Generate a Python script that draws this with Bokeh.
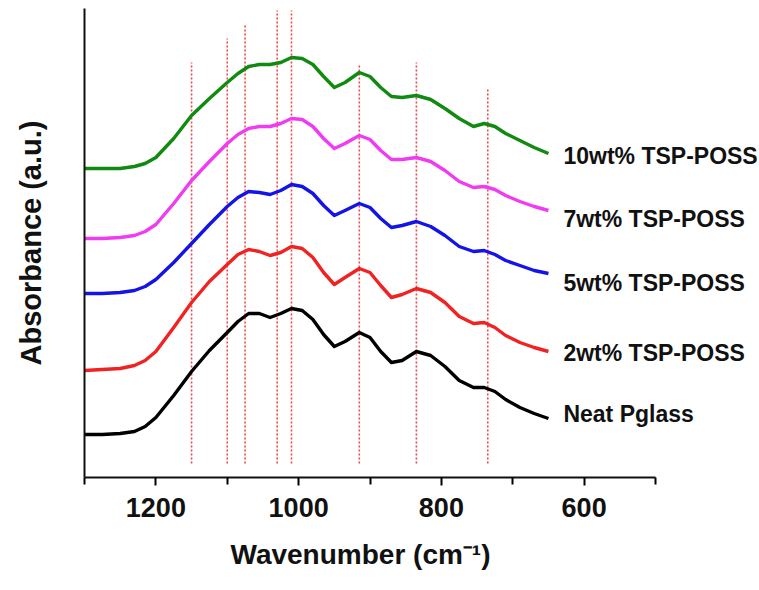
from bokeh.plotting import figure
from bokeh.models import Range1d, FixedTicker, ColumnDataSource, Title
from bokeh.embed import file_html
from bokeh.resources import INLINE
from bokeh.core.properties import value

# ---------------- data (absorbance, arbitrary units, vertically offset) ----------------
wavenumber = [1300, 1275, 1250, 1230, 1215, 1200, 1175, 1150, 1125, 1100, 1085, 1070,
              1055, 1040, 1025, 1010, 995, 980, 965, 950, 935, 915, 900, 885, 870,
              855, 835, 815, 795, 775, 755, 740, 725, 710, 690, 670, 650]

neat = [0.43, 0.43, 0.44, 0.46, 0.51, 0.60, 0.82, 1.06, 1.27, 1.45, 1.56, 1.64,
        1.64, 1.60, 1.64, 1.69, 1.67, 1.58, 1.43, 1.31, 1.36, 1.45, 1.40, 1.26, 1.15,
        1.17, 1.26, 1.22, 1.11, 0.97, 0.90, 0.90, 0.86, 0.78, 0.70, 0.64, 0.59]
wt2 = [1.07, 1.08, 1.09, 1.12, 1.17, 1.26, 1.50, 1.75, 1.96, 2.13, 2.23, 2.28,
       2.26, 2.22, 2.25, 2.31, 2.29, 2.20, 2.05, 1.93, 2.00, 2.09, 2.05, 1.92, 1.80,
       1.83, 1.89, 1.85, 1.75, 1.61, 1.54, 1.55, 1.50, 1.42, 1.35, 1.30, 1.26]
wt5 = [1.84, 1.84, 1.85, 1.87, 1.91, 1.98, 2.15, 2.34, 2.53, 2.71, 2.80, 2.86,
       2.85, 2.83, 2.87, 2.93, 2.91, 2.84, 2.72, 2.62, 2.67, 2.74, 2.70, 2.59, 2.50,
       2.52, 2.56, 2.51, 2.42, 2.31, 2.26, 2.27, 2.23, 2.17, 2.12, 2.07, 2.04]
wt7 = [2.39, 2.39, 2.40, 2.42, 2.46, 2.53, 2.74, 2.97, 3.16, 3.34, 3.43, 3.49,
       3.51, 3.51, 3.54, 3.59, 3.58, 3.51, 3.39, 3.29, 3.34, 3.42, 3.38, 3.27, 3.18,
       3.18, 3.20, 3.16, 3.07, 2.96, 2.90, 2.91, 2.88, 2.82, 2.76, 2.71, 2.67]
wt10 = [3.09, 3.09, 3.09, 3.11, 3.14, 3.20, 3.39, 3.62, 3.79, 3.95, 4.04, 4.11,
        4.13, 4.13, 4.15, 4.20, 4.19, 4.13, 4.01, 3.90, 3.95, 4.05, 4.01, 3.90, 3.81,
        3.80, 3.82, 3.78, 3.69, 3.59, 3.51, 3.54, 3.51, 3.44, 3.37, 3.30, 3.24]

series_names = ["10wt% TSP-POSS", "7wt% TSP-POSS", "5wt% TSP-POSS", "2wt% TSP-POSS", "Neat Pglass"]
series_values = [wt10, wt7, wt5, wt2, neat]
series_colors = ["#108a10", "#f03cf0", "#1414e6", "#f02222", "#000000"]
label_x = 629
label_y = [3.22, 2.59, 1.95, 1.25, 0.64]

# reference band positions (cm-1) and the heights the guide lines reach
band_positions = [1150, 1100, 1075, 1030, 1010, 915, 835, 735]
band_tops = [4.15, 4.39, 4.53, 4.67, 4.67, 4.12, 4.15, 3.89]
band_bottom = 0.14

x_ticks = [1200, 1000, 800, 600]
x_minor = [1300, 1100, 900, 700, 500]
x_axis_start, x_axis_end = 1300, 500

FONT = "Liberation Sans"

p = figure(width=759, height=590, output_backend="svg", toolbar_location=None,
           x_range=Range1d(1300, 354.3), y_range=Range1d(0, 4.69),
           min_border_left=84, min_border_right=0, min_border_top=8, min_border_bottom=113)
p.outline_line_color = None
p.xgrid.visible = False
p.ygrid.visible = False
p.background_fill_color = "white"

# guide lines
p.segment(x0=band_positions, x1=band_positions, y0=[band_bottom] * len(band_positions),
          y1=band_tops, line_color="#f04848", line_width=1.6, line_dash="2 2")

# spectra
for name, vals, col in zip(series_names, series_values, series_colors):
    src = ColumnDataSource(dict(x=wavenumber, y=vals))
    p.line("x", "y", source=src, line_color=col, line_width=3.4, line_join="round")

# series labels
p.text(x=[label_x] * 5, y=label_y, text=series_names, text_font=value(FONT),
       text_font_style="bold", text_font_size="23px", text_color="#111111",
       text_baseline="middle", text_align="left")

# x axis
xa = p.xaxis[0]
xa.bounds = (x_axis_end, x_axis_start)
xa.ticker = FixedTicker(ticks=x_ticks, minor_ticks=x_minor)
xa.axis_line_width = 2
xa.axis_line_color = "#111111"
xa.major_tick_line_width = 2
xa.minor_tick_line_width = 2
xa.major_tick_out = 8
xa.major_tick_in = 0
xa.minor_tick_out = 7
xa.minor_tick_in = 0
xa.major_label_text_font = FONT
xa.major_label_text_font_style = "bold"
xa.major_label_text_font_size = "27px"
xa.major_label_text_color = "#111111"
xa.major_label_standoff = 12

# x axis title
p.add_layout(Title(text="Wavenumber (cm\u207b\u00b9)", align="left", offset=146,
                   text_font=FONT, text_font_style="bold", text_font_size="28px",
                   text_color="#111111", standoff=34), "below")

# y axis
ya = p.yaxis[0]
ya.ticker = FixedTicker(ticks=[])
ya.axis_line_width = 2
ya.axis_line_color = "#111111"
ya.major_tick_line_color = None
ya.minor_tick_line_color = None
ya.major_label_text_font_size = "0px"
ya.axis_label = "Absorbance (a.u.)"
ya.axis_label_text_font = FONT
ya.axis_label_text_font_style = "bold"
ya.axis_label_text_font_size = "29px"
ya.axis_label_text_color = "#111111"
ya.axis_label_standoff = 38

open("out.html", "w").write(file_html(p, INLINE))
